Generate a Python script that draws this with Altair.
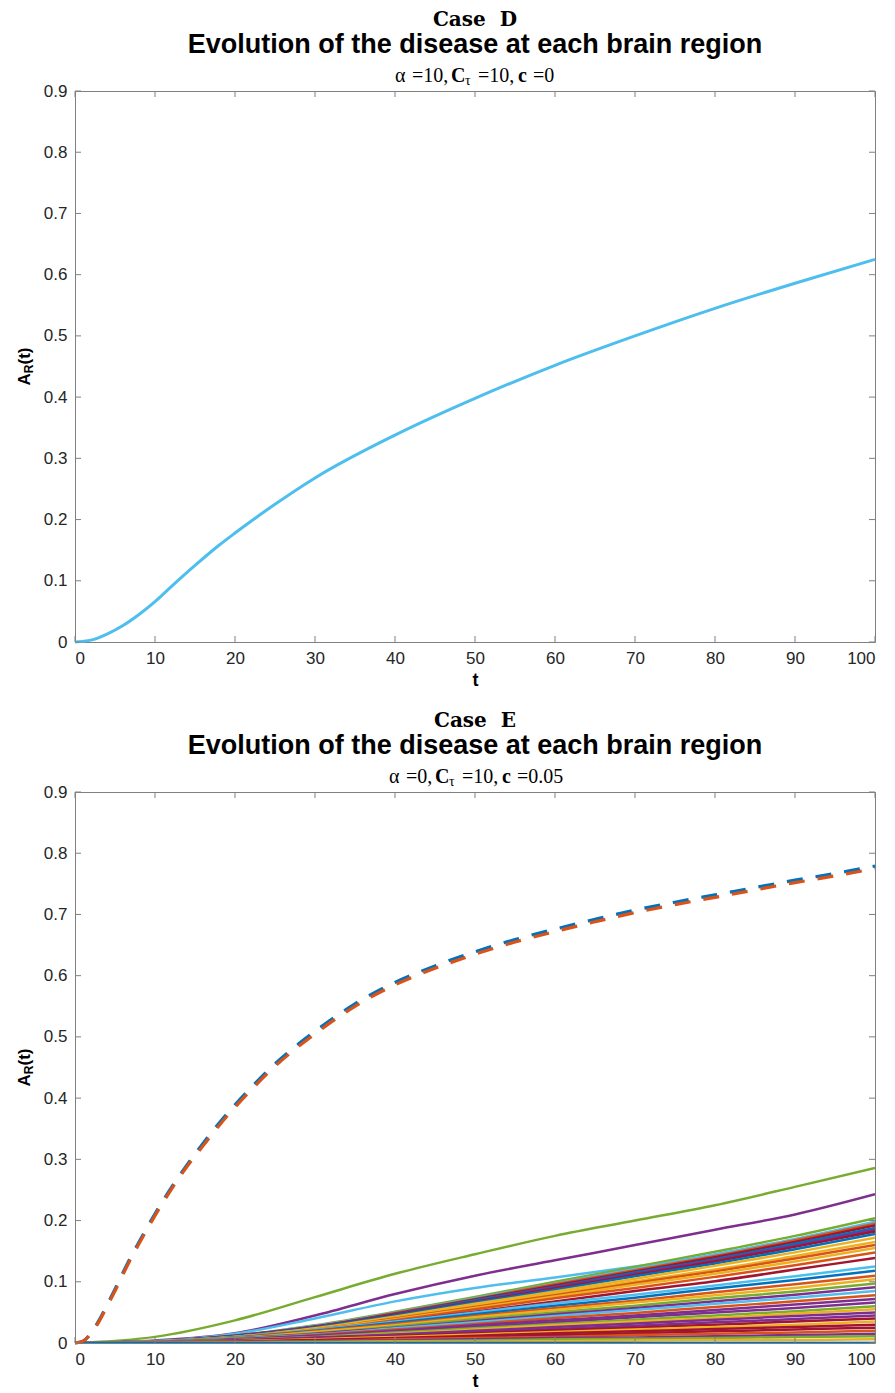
import altair as alt
import pandas as pd

# ---------------- data ----------------
x_ticks = [0, 10, 20, 30, 40, 50, 60, 70, 80, 90, 100]
y_ticks = [0, 0.1, 0.2, 0.3, 0.4, 0.5, 0.6, 0.7, 0.8, 0.9]

# Case D : all regions evolve identically
t_d = [0, 2, 4, 6, 8, 10, 12, 15, 18, 20, 25, 30, 40, 50, 60, 70, 80, 90, 100]
a_d = [0, 0.003, 0.013, 0.027, 0.045, 0.066, 0.090, 0.125, 0.158, 0.178, 0.225,
       0.268, 0.338, 0.398, 0.452, 0.500, 0.545, 0.586, 0.625]

# Case E : two seeded regions (dashed)
t_e_dash = [0, 1, 2, 3, 4, 5, 6, 7, 8, 10, 12, 14, 16, 18, 20, 22, 25, 28, 30, 35,
            40, 45, 50, 55, 60, 65, 70, 75, 80, 85, 90, 95, 100]
a_e_dash_1 = [0, 0.003, 0.016, 0.037, 0.062, 0.088, 0.115, 0.141, 0.165, 0.211, 0.253,
              0.291, 0.326, 0.359, 0.389, 0.417, 0.456, 0.489, 0.509, 0.554, 0.589,
              0.616, 0.639, 0.659, 0.676, 0.692, 0.707, 0.720, 0.732, 0.744, 0.756,
              0.767, 0.779]
a_e_dash_2 = [0, 0.003, 0.015, 0.035, 0.060, 0.085, 0.112, 0.138, 0.162, 0.208, 0.250,
              0.288, 0.322, 0.355, 0.385, 0.413, 0.452, 0.485, 0.505, 0.550, 0.585,
              0.612, 0.635, 0.655, 0.672, 0.688, 0.703, 0.716, 0.728, 0.740, 0.752,
              0.763, 0.775]

# Case E : remaining regions (solid), sampled every 10 time units
t_e = [0, 10, 20, 30, 40, 50, 60, 70, 80, 90, 100]
e_regions = [
    [0, 0.010, 0.037, 0.075, 0.113, 0.145, 0.175, 0.200, 0.225, 0.255, 0.286],
    [0, 0.004, 0.016, 0.045, 0.080, 0.110, 0.135, 0.160, 0.185, 0.210, 0.243],
    [0, 0.003, 0.015, 0.040, 0.068, 0.090, 0.107, 0.125, 0.142, 0.160, 0.182],
    [0, 0.003, 0.012, 0.029, 0.051, 0.075, 0.100, 0.124, 0.149, 0.175, 0.204],
    [0, 0.003, 0.012, 0.028, 0.050, 0.073, 0.097, 0.121, 0.145, 0.170, 0.198],
    [0, 0.003, 0.012, 0.027, 0.049, 0.072, 0.096, 0.119, 0.142, 0.168, 0.195],
    [0, 0.003, 0.012, 0.027, 0.048, 0.071, 0.094, 0.117, 0.140, 0.165, 0.192],
    [0, 0.003, 0.011, 0.026, 0.047, 0.070, 0.092, 0.115, 0.137, 0.162, 0.188],
    [0, 0.003, 0.011, 0.026, 0.046, 0.068, 0.091, 0.113, 0.135, 0.159, 0.185],
    [0, 0.003, 0.011, 0.025, 0.046, 0.067, 0.089, 0.111, 0.133, 0.157, 0.182],
    [0, 0.003, 0.011, 0.025, 0.045, 0.066, 0.087, 0.109, 0.130, 0.153, 0.178],
    [0, 0.003, 0.010, 0.024, 0.043, 0.064, 0.084, 0.105, 0.126, 0.148, 0.172],
    [0, 0.002, 0.010, 0.023, 0.041, 0.061, 0.081, 0.101, 0.120, 0.142, 0.165],
    [0, 0.002, 0.010, 0.022, 0.040, 0.059, 0.078, 0.098, 0.117, 0.138, 0.160],
    [0, 0.002, 0.009, 0.022, 0.039, 0.057, 0.076, 0.095, 0.113, 0.133, 0.155],
    [0, 0.002, 0.009, 0.021, 0.037, 0.055, 0.073, 0.090, 0.108, 0.127, 0.148],
    [0, 0.002, 0.008, 0.019, 0.035, 0.051, 0.068, 0.085, 0.101, 0.120, 0.139],
    [0, 0.003, 0.010, 0.021, 0.035, 0.050, 0.065, 0.079, 0.094, 0.109, 0.125],
    [0, 0.002, 0.009, 0.020, 0.033, 0.047, 0.061, 0.074, 0.089, 0.103, 0.118],
    [0, 0.002, 0.009, 0.019, 0.031, 0.044, 0.057, 0.069, 0.083, 0.096, 0.110],
    [0, 0.002, 0.008, 0.018, 0.029, 0.042, 0.054, 0.066, 0.078, 0.090, 0.104],
    [0, 0.002, 0.008, 0.016, 0.027, 0.039, 0.050, 0.061, 0.073, 0.084, 0.097],
    [0, 0.002, 0.007, 0.015, 0.025, 0.036, 0.047, 0.057, 0.068, 0.079, 0.091],
    [0, 0.002, 0.007, 0.014, 0.024, 0.034, 0.044, 0.054, 0.064, 0.074, 0.085],
    [0, 0.002, 0.006, 0.013, 0.022, 0.031, 0.041, 0.049, 0.059, 0.068, 0.078],
    [0, 0.001, 0.006, 0.012, 0.020, 0.029, 0.037, 0.045, 0.054, 0.063, 0.072],
    [0, 0.001, 0.005, 0.011, 0.018, 0.026, 0.034, 0.042, 0.050, 0.057, 0.066],
    [0, 0.001, 0.005, 0.010, 0.017, 0.024, 0.031, 0.038, 0.045, 0.052, 0.060],
    [0, 0.001, 0.004, 0.009, 0.015, 0.022, 0.029, 0.035, 0.041, 0.048, 0.055],
    [0, 0.001, 0.004, 0.009, 0.014, 0.020, 0.026, 0.032, 0.038, 0.044, 0.050],
    [0, 0.001, 0.004, 0.008, 0.013, 0.018, 0.023, 0.028, 0.034, 0.039, 0.045],
    [0, 0.001, 0.003, 0.007, 0.011, 0.016, 0.021, 0.025, 0.030, 0.035, 0.040],
    [0, 0.001, 0.003, 0.006, 0.010, 0.014, 0.018, 0.022, 0.026, 0.030, 0.035],
    [0, 0.001, 0.002, 0.005, 0.008, 0.012, 0.016, 0.019, 0.023, 0.026, 0.030],
    [0, 0.001, 0.002, 0.004, 0.007, 0.010, 0.013, 0.016, 0.019, 0.022, 0.025],
    [0, 0, 0.002, 0.003, 0.006, 0.008, 0.010, 0.013, 0.015, 0.017, 0.020],
    [0, 0, 0.001, 0.003, 0.004, 0.006, 0.008, 0.009, 0.011, 0.013, 0.015],
    [0, 0, 0.001, 0.002, 0.003, 0.004, 0.006, 0.007, 0.008, 0.010, 0.011],
    [0, 0, 0, 0.001, 0.002, 0.002, 0.003, 0.004, 0.005, 0.005, 0.006],
    [0, 0, 0, 0, 0, 0, 0, 0, 0, 0, 0],
    [0, 0, 0, 0, 0, 0, 0, 0, 0, 0, 0],
]

# ---------------- styles ----------------
BLUE, ORANGE, YELLOW, PURPLE = "#0072BD", "#D95319", "#EDB120", "#7E2F8E"
GREEN, LBLUE, RED = "#77AC30", "#4DBEEE", "#A2142F"
e_region_colors = [GREEN, PURPLE, LBLUE, GREEN, LBLUE, ORANGE, RED, BLUE, PURPLE,
                   RED, BLUE, YELLOW, YELLOW, ORANGE, YELLOW, ORANGE, RED, LBLUE,
                   BLUE, ORANGE, YELLOW, GREEN, PURPLE, LBLUE, ORANGE, PURPLE,
                   PURPLE, GREEN, YELLOW, PURPLE, PURPLE, RED, YELLOW, RED, RED,
                   ORANGE, PURPLE, GREEN, YELLOW, LBLUE, BLUE]

FONT = "Liberation Sans"
SERIF = "DejaVu Serif"
MSERIF = "Liberation Serif"
W, H = 800, 551
AX = "#808080"
TICK = 6

x_scale = alt.Scale(domain=[0, 100], nice=False, zero=False)
y_scale = alt.Scale(domain=[0, 0.9], nice=False)
x_axis = alt.Axis(values=x_ticks, title="t", format="d")
y_axis = alt.Axis(values=y_ticks, title=None, format=".1~f")


def X(field="t"):
    return alt.X(f"{field}:Q", scale=x_scale, axis=x_axis)


def Y(field="a"):
    return alt.Y(f"{field}:Q", scale=y_scale, axis=y_axis)


def text_mark(s, x, y, size, font, weight="normal", align="center", angle=0):
    return alt.Chart(pd.DataFrame({"s": [s]})).mark_text(
        font=font, fontSize=size, fontWeight=weight, align=align,
        baseline="middle", angle=angle, color="black"
    ).encode(text="s:N", x=alt.value(x), y=alt.value(y))


def frame_layers():
    xt = pd.DataFrame({"t": x_ticks})
    yt = pd.DataFrame({"a": y_ticks})
    r = dict(color=AX, strokeWidth=1)
    return [
        alt.Chart(xt).mark_rule(**r).encode(x=X(), y=alt.value(H), y2=alt.value(H - TICK)),
        alt.Chart(xt).mark_rule(**r).encode(x=X(), y=alt.value(0), y2=alt.value(TICK)),
        alt.Chart(yt).mark_rule(**r).encode(y=Y(), x=alt.value(0), x2=alt.value(TICK)),
        alt.Chart(yt).mark_rule(**r).encode(y=Y(), x=alt.value(W), x2=alt.value(W - TICK)),
    ]


def title_layers(case, sub_tokens, sub_start):
    layers = [
        text_mark(case, W / 2, -71, 20, SERIF, "bold"),
        text_mark("Evolution of the disease at each brain region", W / 2, -46, 27, FONT, "bold"),
    ]
    for s, off, bold, size, dy in sub_tokens:
        layers.append(text_mark(s, sub_start + off, -15 + dy, size, MSERIF,
                                "bold" if bold else "normal", align="left"))
    # y-axis title  A_R(t)
    layers.append(text_mark("A", -50, H / 2 + 19, 17, FONT, "bold", align="left", angle=270))
    layers.append(text_mark("R", -46, H / 2 + 6.7, 12, FONT, "bold", align="left", angle=270))
    layers.append(text_mark("(t)", -50, H / 2 - 2, 17, FONT, "bold", align="left", angle=270))
    return layers


sub_d = [("α", 0, False, 20, 0), ("=10,", 17, False, 20, 0), ("C", 56, True, 20, 0),
         ("τ", 70, False, 14, 5), ("=10,", 83, False, 20, 0), ("c", 123, True, 20, 0),
         ("=0", 138, False, 20, 0)]
sub_e = [("α", 0, False, 20, 0), ("=0,", 17, False, 20, 0), ("C", 46, True, 20, 0),
         ("τ", 60, False, 14, 5), ("=10,", 73, False, 20, 0), ("c", 113, True, 20, 0),
         ("=0.05", 128, False, 20, 0)]

# ---------- Case D ----------
df_d = pd.DataFrame({"t": t_d, "a": a_d})
line_d = alt.Chart(df_d).mark_line(color=LBLUE, strokeWidth=3, interpolate="monotone").encode(x=X(), y=Y())
top = alt.layer(line_d, *frame_layers(), *title_layers("Case\u00a0\u00a0D", sub_d, 320)).properties(width=W, height=H)

# ---------- Case E ----------
rows = []
names = []
for i, vals in enumerate(e_regions):
    name = f"r{i:02d}"
    names.append(name)
    for t, v in zip(t_e, vals):
        rows.append({"t": t, "a": v, "region": name})
df_e = pd.DataFrame(rows)
solid = alt.Chart(df_e).mark_line(strokeWidth=2.5, interpolate="monotone", clip=True).encode(
    x=X(), y=Y(),
    color=alt.Color("region:N", scale=alt.Scale(domain=names, range=e_region_colors), legend=None),
)
df_dash = pd.DataFrame({"t": t_e_dash * 2, "a": a_e_dash_1 + a_e_dash_2,
                        "region": ["seed1"] * len(t_e_dash) + ["seed2"] * len(t_e_dash)})
dashed = alt.Chart(df_dash).mark_line(strokeWidth=3.2, strokeDash=[16, 13], interpolate="monotone").encode(
    x=X(), y=Y(),
    color=alt.Color("region:N", scale=alt.Scale(domain=["seed1", "seed2"], range=[BLUE, ORANGE]), legend=None),
)
bottom = alt.layer(solid, dashed, *frame_layers(), *title_layers("Case\u00a0\u00a0E", sub_e, 314)).properties(
    width=W, height=H).resolve_scale(color="independent")

chart = alt.vconcat(top, bottom, spacing=20).properties(
    padding={"left": 7, "top": 1, "right": 0, "bottom": 0}
).configure_view(stroke=AX, strokeWidth=1).configure_axis(
    domain=False, ticks=False, tickSize=0, grid=False,
    labelFont=FONT, labelFontSize=17, labelColor="#262626", labelPadding=8,
    titleFont=FONT, titleFontSize=18, titleFontWeight="bold", titleColor="black", titlePadding=5,
)

chart.save("out.html", embed_options={"renderer": "svg", "actions": False})
